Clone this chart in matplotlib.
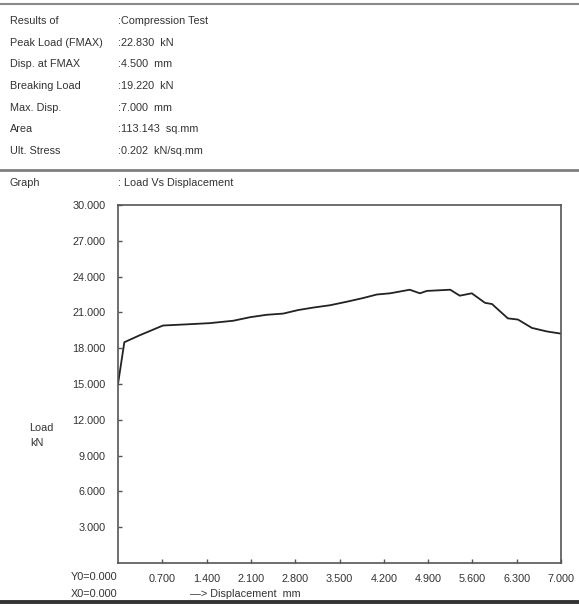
import matplotlib
matplotlib.use('Agg')
import matplotlib.pyplot as plt
from matplotlib.lines import Line2D

W, H = 579, 609

# test summary block
header_labels = ['Results of', 'Peak Load (FMAX)', 'Disp. at FMAX', 'Breaking Load',
                 'Max. Disp.', 'Area', 'Ult. Stress']
header_values = [':Compression Test', ':22.830  kN', ':4.500  mm', ':19.220  kN',
                 ':7.000  mm', ':113.143  sq.mm', ':0.202  kN/sq.mm']

# load vs displacement trace (mm, kN)
disp_mm = [0.00, 0.10, 0.35, 0.71, 1.09, 1.45, 1.82, 2.09, 2.35, 2.61, 2.85,
           3.08, 3.35, 3.62, 3.87, 4.09, 4.30, 4.61, 4.77, 4.88, 5.25, 5.40,
           5.59, 5.80, 5.91, 6.16, 6.32, 6.54, 6.78, 7.00]
load_kn = [15.0, 18.5, 19.1, 19.9, 20.0, 20.1, 20.3, 20.6, 20.8, 20.9, 21.2,
           21.4, 21.6, 21.9, 22.2, 22.5, 22.6, 22.9, 22.6, 22.8, 22.9, 22.4,
           22.6, 21.8, 21.7, 20.5, 20.4, 19.7, 19.4, 19.22]

x_ticks = [0.7, 1.4, 2.1, 2.8, 3.5, 4.2, 4.9, 5.6, 6.3, 7.0]
y_ticks = [3, 6, 9, 12, 15, 18, 21, 24, 27, 30]

plt.rcParams['font.family'] = ['Liberation Sans', 'DejaVu Sans']
txt = dict(fontsize=7.8, color='#333333')


def fx(px):
    return px / W


def fy(py):
    return 1 - py / H


fig = plt.figure(figsize=(W / 100, H / 100), dpi=100)

# rule lines across the sheet
for py, lw, c in [(4, 1.5, '#8a8a8a'), (170, 2.0, '#808080'), (602, 2.8, '#333333')]:
    fig.add_artist(Line2D([0, 1], [fy(py), fy(py)], transform=fig.transFigure,
                          lw=lw, color=c))

for i, (lab, val) in enumerate(zip(header_labels, header_values)):
    y = fy(21 + i * 21.7)
    fig.text(fx(10), y, lab, va='center', ha='left', **txt)
    fig.text(fx(118), y, val, va='center', ha='left', **txt)

fig.text(fx(10), fy(183), 'Graph', va='center', ha='left', **txt)
fig.text(fx(118), fy(183), ': Load Vs Displacement', va='center', ha='left', **txt)

ax = fig.add_axes([fx(118), fy(563), fx(561) - fx(118), fy(205) - fy(563)])
ax.plot(disp_mm, load_kn, color='#222222', lw=1.3)
ax.set_xlim(0, 7)
ax.set_ylim(0, 30)
ax.set_xticks(x_ticks)
ax.set_yticks(y_ticks)
ax.set_xticklabels([f'{v:.3f}' for v in x_ticks])
ax.set_yticklabels([f'{v:.3f}' for v in y_ticks])
ax.tick_params(direction='in', length=3, width=1, color='#555555',
               labelsize=7.8, labelcolor='#333333')
ax.tick_params(axis='y', pad=9)
ax.tick_params(axis='x', pad=8)
for s in ax.spines.values():
    s.set_color('#555555')
    s.set_linewidth(1.2)

fig.text(fx(117), fy(577), 'Y0=0.000', va='center', ha='right', **txt)
fig.text(fx(117), fy(594), 'X0=0.000', va='center', ha='right', **txt)
fig.text(fx(190), fy(594), '\u2014> Displacement  mm', va='center', ha='left', **txt)

fig.text(fx(29), fy(428), 'Load', va='center', ha='left', **txt)
fig.text(fx(30), fy(443), 'kN', va='center', ha='left', **txt)

fig.savefig('out.png', dpi=100)
